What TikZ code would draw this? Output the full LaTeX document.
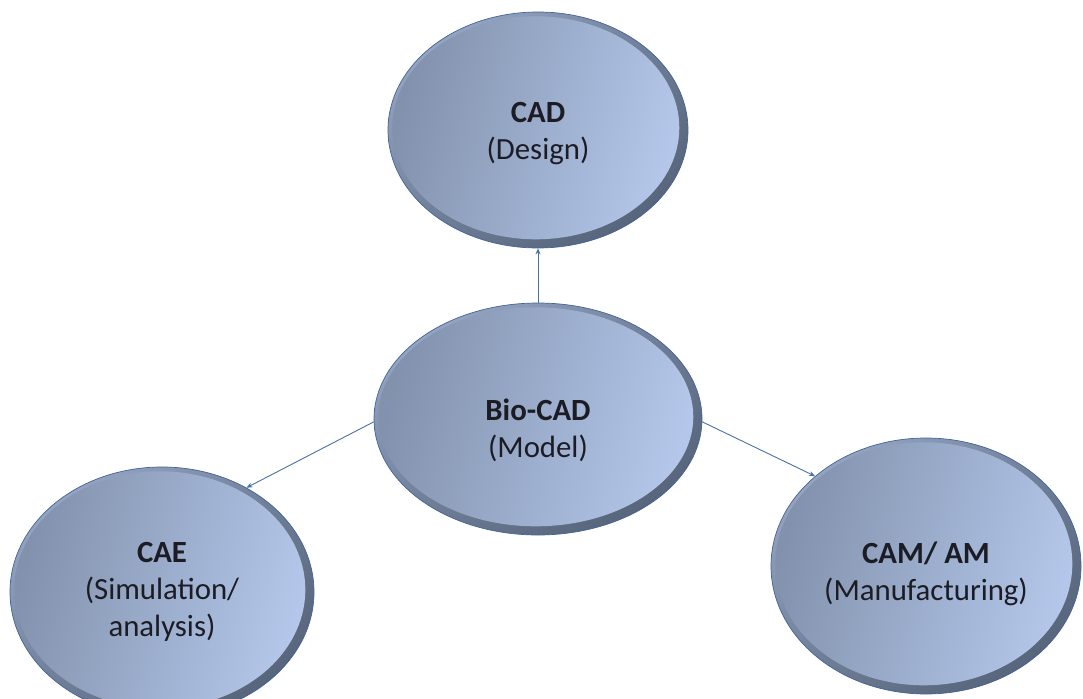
\documentclass[tikz,border=0pt]{standalone}
\usepackage{fontspec}
\setmainfont{Carlito}
\usetikzlibrary{shapes.geometric,calc,arrows.meta,shadings}
\definecolor{edgeblue}{HTML}{43639A}
\definecolor{ringlight}{HTML}{A3B4D3}
\definecolor{ringmid}{HTML}{6E7D96}
\definecolor{ringdark}{HTML}{4E5B70}
\definecolor{fillL}{HTML}{8292AD}
\definecolor{fillR}{HTML}{B4C7EA}
\definecolor{arrowblue}{HTML}{4A70A8}
\definecolor{txt}{HTML}{1C1C24}
\tikzset{
  bubble/.style={ellipse, draw=edgeblue, line width=0.7pt, inner sep=0pt,
    path picture={
      \shade[upper left=ringlight, upper right=ringmid, lower left=ringmid, lower right=ringdark]
        (path picture bounding box.south west) rectangle (path picture bounding box.north east);
      \shade[left color=fillL, right color=fillR, shading angle=75]
        let \p1=(path picture bounding box.center),
            \p2=(path picture bounding box.north east) in
        ($(\p1)+(-2.2pt,2.2pt)$) ellipse [x radius={\x2-\x1-6.5pt}, y radius={\y2-\y1-6.5pt}];
    }},
  bubbletext/.style={align=center, text=txt, inner sep=0pt,
    font=\fontsize{30.8}{37}\selectfont},
  arr/.style={draw=arrowblue, line width=0.9pt, -{Stealth[length=6pt,width=5pt]}}
}
\begin{document}
\begin{tikzpicture}[x=1pt,y=-1pt]
\useasboundingbox (0,0) rectangle (1083,698);
\node[bubble, minimum width=300pt, minimum height=236pt] (cad) at (538,130) {};
\node[bubble, minimum width=328pt, minimum height=232pt] (bio) at (538,419) {};
\node[bubble, minimum width=304pt, minimum height=250pt] (cae) at (162,592) {};
\node[bubble, minimum width=310pt, minimum height=256pt] (cam) at (926,566) {};
\node[bubbletext] (cadtext) at ($(cad.center)+(0,4)$) {\textbf{CAD}\\(Design)};
\node[bubbletext] (biotext) at ($(bio.center)+(0,11)$) {\textbf{Bio-CAD}\\(Model)};
\node[bubbletext] (caetext) at ($(cae.center)+(0,0)$) {\textbf{CAE}\\(Simulation/\\analysis)};
\node[bubbletext] (camtext) at ($(cam.center)+(0,8)$) {\textbf{CAM/ AM}\\(Manufacturing)};
\draw[arr] (bio.north) -- (cad.south);
\draw[arr] (bio.181) -- (cae.51);
\draw[arr] (bio.-1) -- (cam.141);
\end{tikzpicture}
\end{document}
